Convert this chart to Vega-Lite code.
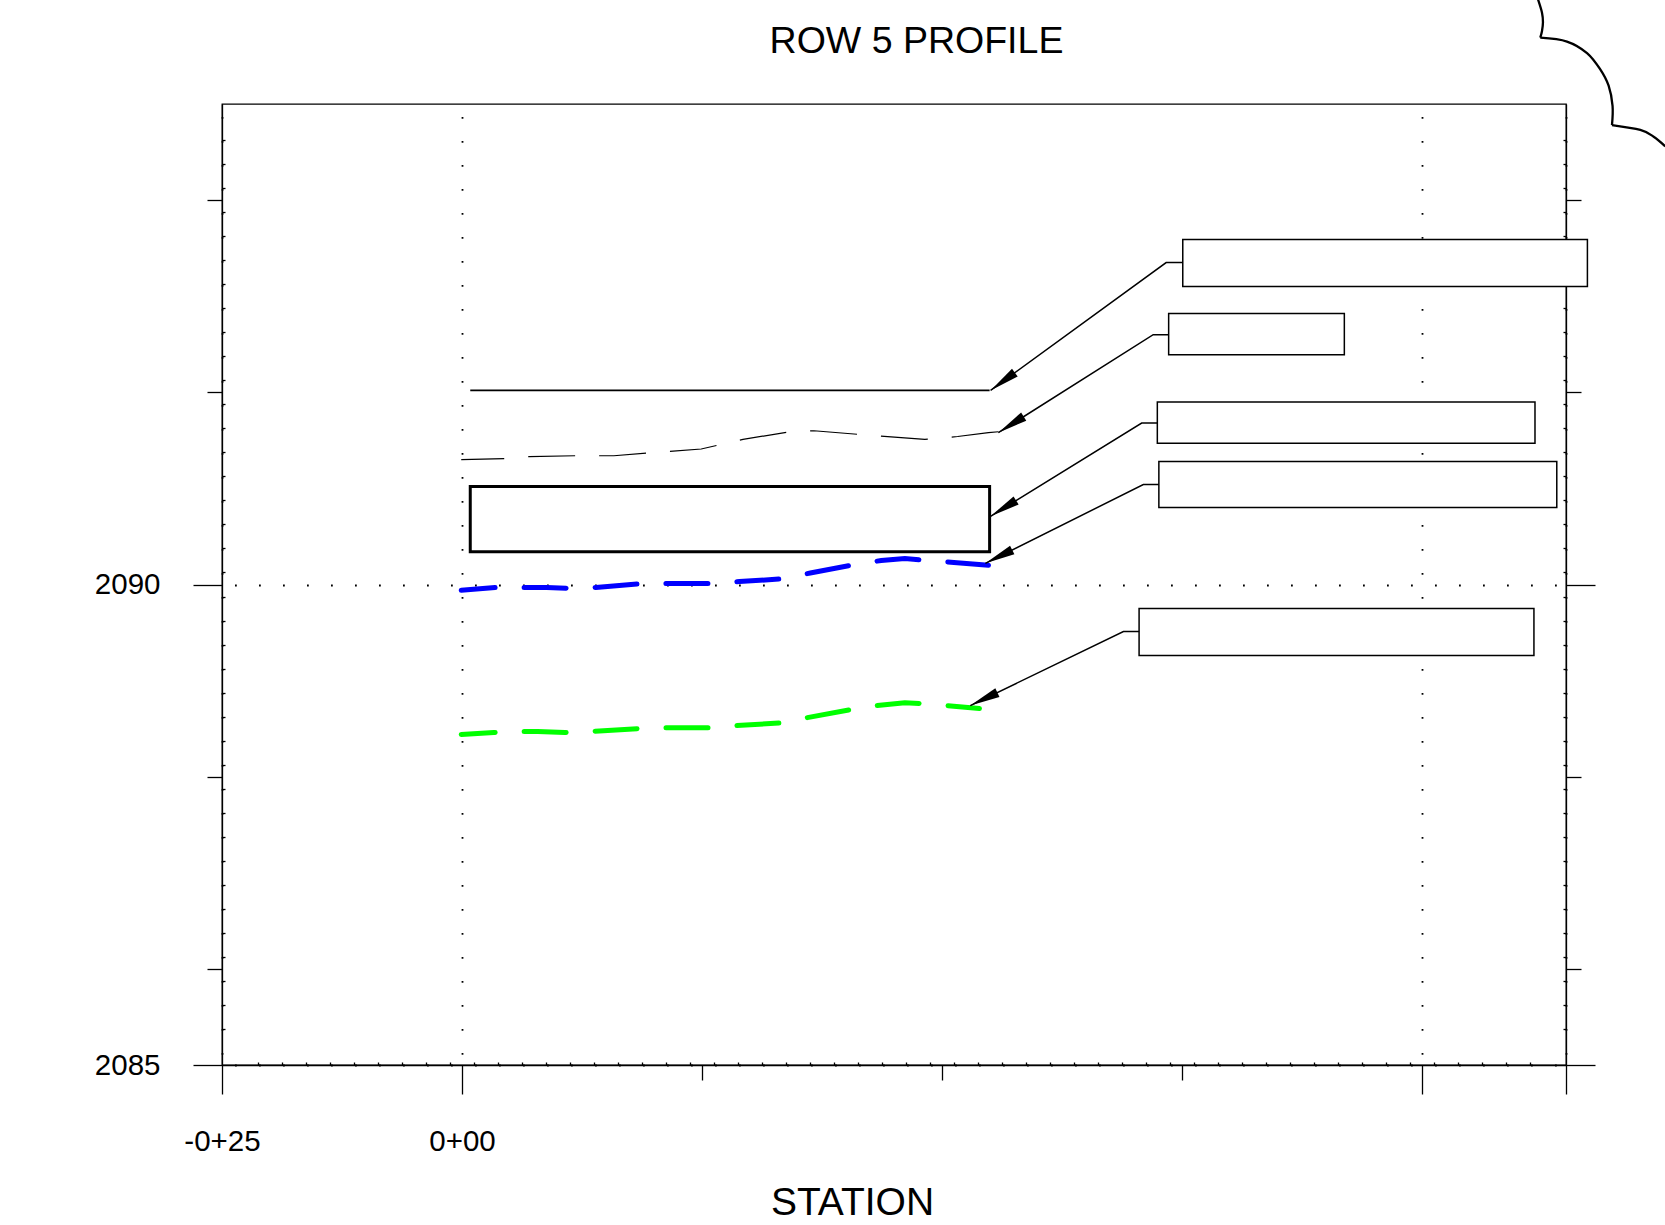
{
  "$schema": "https://vega.github.io/schema/vega-lite/v6.json",
  "width": 1344,
  "height": 961,
  "autosize": {"type": "none"},
  "padding": {"left": 222, "top": 104, "right": 99, "bottom": 160},
  "background": "white",
  "config": {
    "view": {"stroke": "black", "strokeWidth": 1.3},
    "axis": {
      "domain": false,
      "domainColor": "black",
      "domainWidth": 1.3,
      "tickColor": "black",
      "tickWidth": 1.3,
      "labels": false,
      "labelFont": "Liberation Sans",
      "labelFontSize": 29.5,
      "labelColor": "black",
      "labelOverlap": false,
      "labelFlush": false,
      "titleFont": "Liberation Sans",
      "titleColor": "black",
      "titleFontWeight": "normal",
      "grid": false,
      "gridColor": "black",
      "gridOpacity": 1,
      "gridWidth": 1.8,
      "gridDash": [1.8, 22.2],
      "gridDashOffset": 11.5
    }
  },
  "datasets": {
    "structure": [{"x1": 0.86, "x2": 54.96, "y1": 2090.34, "y2": 2091.02}],
    "boxes": [
      {"id": 1, "x1": 75.08, "x2": 117.23, "y1": 2093.10, "y2": 2093.59},
      {"id": 2, "x1": 73.61, "x2": 91.91, "y1": 2092.39, "y2": 2092.82},
      {"id": 3, "x1": 72.43, "x2": 111.77, "y1": 2091.47, "y2": 2091.90},
      {"id": 4, "x1": 72.59, "x2": 114.04, "y1": 2090.80, "y2": 2091.28},
      {"id": 5, "x1": 70.53, "x2": 111.66, "y1": 2089.26, "y2": 2089.75}
    ],
    "design": [
      {"station": 0.86, "elev": 2092.02},
      {"station": 54.96, "elev": 2092.02}
    ],
    "existing": [
      {"station": -0.08, "elev": 2091.30},
      {"station": 4.46, "elev": 2091.31},
      {"station": 6.99, "elev": 2091.33},
      {"station": 11.85, "elev": 2091.34},
      {"station": 15.82, "elev": 2091.34},
      {"station": 19.43, "elev": 2091.37},
      {"station": 24.92, "elev": 2091.41},
      {"station": 29.27, "elev": 2091.51},
      {"station": 34.20, "elev": 2091.59},
      {"station": 36.66, "elev": 2091.60},
      {"station": 41.58, "elev": 2091.56},
      {"station": 48.21, "elev": 2091.51},
      {"station": 51.63, "elev": 2091.54},
      {"station": 54.84, "elev": 2091.58},
      {"station": 55.91, "elev": 2091.59}
    ],
    "blue": [
      {"station": -0.08, "elev": 2089.94},
      {"station": 3.71, "elev": 2089.97},
      {"station": 8.82, "elev": 2089.97},
      {"station": 11.28, "elev": 2089.96},
      {"station": 13.94, "elev": 2089.97},
      {"station": 18.85, "elev": 2090.01},
      {"station": 26.24, "elev": 2090.01},
      {"station": 28.90, "elev": 2090.03},
      {"station": 33.63, "elev": 2090.06},
      {"station": 36.28, "elev": 2090.12},
      {"station": 41.02, "elev": 2090.21},
      {"station": 43.67, "elev": 2090.25},
      {"station": 46.13, "elev": 2090.27},
      {"station": 48.41, "elev": 2090.25},
      {"station": 51.24, "elev": 2090.23},
      {"station": 54.84, "elev": 2090.20}
    ],
    "green": [
      {"station": -0.08, "elev": 2088.44},
      {"station": 3.32, "elev": 2088.46},
      {"station": 5.60, "elev": 2088.47},
      {"station": 7.88, "elev": 2088.47},
      {"station": 10.71, "elev": 2088.46},
      {"station": 13.18, "elev": 2088.47},
      {"station": 18.29, "elev": 2088.50},
      {"station": 20.75, "elev": 2088.51},
      {"station": 25.68, "elev": 2088.51},
      {"station": 28.32, "elev": 2088.53},
      {"station": 33.25, "elev": 2088.56},
      {"station": 35.71, "elev": 2088.61},
      {"station": 40.64, "elev": 2088.70},
      {"station": 43.10, "elev": 2088.74},
      {"station": 46.13, "elev": 2088.77},
      {"station": 48.02, "elev": 2088.76},
      {"station": 50.49, "elev": 2088.74},
      {"station": 53.90, "elev": 2088.71}
    ],
    "leaders": [
      {"id": 1, "k": 1, "station": 75.08, "elev": 2093.35},
      {"id": 1, "k": 2, "station": 73.35, "elev": 2093.35},
      {"id": 1, "k": 3, "station": 55.06, "elev": 2092.02},
      {"id": 2, "k": 1, "station": 73.61, "elev": 2092.60},
      {"id": 2, "k": 2, "station": 72.00, "elev": 2092.60},
      {"id": 2, "k": 3, "station": 55.87, "elev": 2091.58},
      {"id": 3, "k": 1, "station": 72.43, "elev": 2091.68},
      {"id": 3, "k": 2, "station": 70.80, "elev": 2091.68},
      {"id": 3, "k": 3, "station": 55.06, "elev": 2090.71},
      {"id": 4, "k": 1, "station": 72.59, "elev": 2091.04},
      {"id": 4, "k": 2, "station": 70.97, "elev": 2091.04},
      {"id": 4, "k": 3, "station": 54.52, "elev": 2090.22},
      {"id": 5, "k": 1, "station": 70.53, "elev": 2089.51},
      {"id": 5, "k": 2, "station": 68.90, "elev": 2089.51},
      {"id": 5, "k": 3, "station": 52.95, "elev": 2088.74}
    ],
    "arrows": [
      {"id": 1, "station": 55.06, "elev": 2092.02},
      {"id": 2, "station": 55.87, "elev": 2091.58},
      {"id": 3, "station": 55.06, "elev": 2090.71},
      {"id": 4, "station": 54.52, "elev": 2090.22},
      {"id": 5, "station": 52.95, "elev": 2088.74}
    ],
    "cloud": [
      {"arc": "A", "k": 1, "station": 112.08, "elev": 2096.09},
      {"arc": "A", "k": 2, "station": 112.50, "elev": 2095.95},
      {"arc": "A", "k": 3, "station": 112.60, "elev": 2095.85},
      {"arc": "A", "k": 4, "station": 112.50, "elev": 2095.76},
      {"arc": "A", "k": 5, "station": 112.32, "elev": 2095.69},
      {"arc": "B", "k": 1, "station": 112.32, "elev": 2095.69},
      {"arc": "B", "k": 2, "station": 115.10, "elev": 2095.65},
      {"arc": "B", "k": 3, "station": 117.19, "elev": 2095.53},
      {"arc": "B", "k": 4, "station": 118.57, "elev": 2095.36},
      {"arc": "B", "k": 5, "station": 119.44, "elev": 2095.19},
      {"arc": "B", "k": 6, "station": 119.85, "elev": 2094.98},
      {"arc": "B", "k": 7, "station": 119.79, "elev": 2094.78},
      {"arc": "C", "k": 1, "station": 119.79, "elev": 2094.78},
      {"arc": "C", "k": 2, "station": 122.74, "elev": 2094.73},
      {"arc": "C", "k": 3, "station": 124.13, "elev": 2094.66},
      {"arc": "C", "k": 4, "station": 125.34, "elev": 2094.56}
    ]
  },
  "resolve": {"axis": {"x": "independent", "y": "independent"}},
  "layer": [
    {
      "data": {"name": "structure"},
      "mark": {"type": "rect", "fill": "transparent", "stroke": "black", "strokeWidth": 3, "clip": false},
      "encoding": {
        "x": {"field": "x1", "type": "quantitative", "scale": {"domain": [-25, 115], "nice": false, "zero": false},
          "axis": {"orient": "bottom", "values": [-25, 0, 100, 115], "tickSize": 29, "domain": true, "labels": true,
            "labelExpr": "datum.value == -25 ? '-0+25' : (datum.value == 0 ? '0+00' : '')",
            "labelPadding": 33, "grid": true,
            "title": "STATION", "titleFontSize": 39, "titleX": 630, "titleY": 149, "titleAlign": "center", "titleBaseline": "alphabetic"}},
        "x2": {"field": "x2"},
        "y": {"field": "y1", "type": "quantitative", "scale": {"domain": [2085, 2095], "nice": false, "zero": false},
          "axis": {"orient": "left", "values": [2085, 2090], "tickSize": 29, "domain": true, "labels": true, "format": "d",
            "labelPadding": 33, "grid": true, "title": null}},
        "y2": {"field": "y2"}
      }
    },
    {
      "data": {"name": "boxes"},
      "mark": {"type": "rect", "fill": "white", "stroke": "black", "strokeWidth": 1.5, "clip": false},
      "encoding": {
        "x": {"field": "x1", "type": "quantitative", "scale": {"domain": [-25, 115], "nice": false, "zero": false},
          "axis": {"orient": "bottom", "values": [25, 50, 75], "tickSize": 15, "title": null}},
        "x2": {"field": "x2"},
        "y": {"field": "y1", "type": "quantitative", "scale": {"domain": [2085, 2095], "nice": false, "zero": false},
          "axis": {"orient": "left", "values": [2086, 2088, 2092, 2094], "tickSize": 15, "title": null}},
        "y2": {"field": "y2"}
      }
    },
    {
      "data": {"name": "design"},
      "mark": {"type": "line", "color": "black", "strokeWidth": 1.6, "clip": false},
      "encoding": {
        "x": {"field": "station", "type": "quantitative", "scale": {"domain": [-25, 115], "nice": false, "zero": false},
          "axis": {"orient": "bottom", "tickSize": -3, "title": null,
            "values": [-21.25, -18.75, -16.25, -13.75, -11.25, -8.75, -6.25, -3.75, -1.25, 1.25, 3.75, 6.25, 8.75, 11.25, 13.75, 16.25, 18.75, 21.25, 23.75, 26.25, 28.75, 31.25, 33.75, 36.25, 38.75, 41.25, 43.75, 46.25, 48.75, 51.25, 53.75, 56.25, 58.75, 61.25, 63.75, 66.25, 68.75, 71.25, 73.75, 76.25, 78.75, 81.25, 83.75, 86.25, 88.75, 91.25, 93.75, 96.25, 98.75, 101.25, 103.75, 106.25, 108.75, 111.25]}},
        "y": {"field": "elev", "type": "quantitative", "scale": {"domain": [2085, 2095], "nice": false, "zero": false},
          "axis": {"orient": "left", "tickSize": -3, "title": null,
            "values": [2085.375, 2085.625, 2085.875, 2086.125, 2086.375, 2086.625, 2086.875, 2087.125, 2087.375, 2087.625, 2087.875, 2088.125, 2088.375, 2088.625, 2088.875, 2089.125, 2089.375, 2089.625, 2089.875, 2090.125, 2090.375, 2090.625, 2090.875, 2091.125, 2091.375, 2091.625, 2091.875, 2092.125, 2092.375, 2092.625, 2092.875, 2093.125, 2093.375, 2093.625, 2093.875, 2094.125, 2094.375, 2094.625]}}
      }
    },
    {
      "data": {"name": "existing"},
      "mark": {"type": "line", "color": "black", "strokeWidth": 1.2, "strokeDash": [47, 24], "strokeDashOffset": 4, "clip": false},
      "encoding": {
        "x": {"field": "station", "type": "quantitative", "scale": {"domain": [-25, 115], "nice": false, "zero": false},
          "axis": {"orient": "top", "ticks": false, "labels": false, "domain": false,
            "title": "ROW 5 PROFILE", "titleFontSize": 37.5, "titleX": 694, "titleY": -52, "titleAlign": "center", "titleBaseline": "alphabetic"}},
        "y": {"field": "elev", "type": "quantitative", "scale": {"domain": [2085, 2095], "nice": false, "zero": false},
          "axis": {"orient": "right", "values": [2085, 2090], "tickSize": 29, "domain": true, "title": null}}
      }
    },
    {
      "data": {"name": "blue"},
      "mark": {"type": "line", "color": "#0000ff", "strokeWidth": 5, "strokeCap": "round", "strokeDash": [42, 29], "strokeDashOffset": 8, "clip": false},
      "encoding": {
        "x": {"field": "station", "type": "quantitative", "scale": {"domain": [-25, 115], "nice": false, "zero": false}, "axis": null},
        "y": {"field": "elev", "type": "quantitative", "scale": {"domain": [2085, 2095], "nice": false, "zero": false},
          "axis": {"orient": "right", "values": [2086, 2088, 2092, 2094], "tickSize": 15, "title": null}}
      }
    },
    {
      "data": {"name": "green"},
      "mark": {"type": "line", "color": "#00ff00", "strokeWidth": 5, "strokeCap": "round", "strokeDash": [42, 29], "strokeDashOffset": 8, "clip": false},
      "encoding": {
        "x": {"field": "station", "type": "quantitative", "scale": {"domain": [-25, 115], "nice": false, "zero": false}, "axis": null},
        "y": {"field": "elev", "type": "quantitative", "scale": {"domain": [2085, 2095], "nice": false, "zero": false},
          "axis": {"orient": "right", "tickSize": -3, "title": null,
            "values": [2085.375, 2085.625, 2085.875, 2086.125, 2086.375, 2086.625, 2086.875, 2087.125, 2087.375, 2087.625, 2087.875, 2088.125, 2088.375, 2088.625, 2088.875, 2089.125, 2089.375, 2089.625, 2089.875, 2090.125, 2090.375, 2090.625, 2090.875, 2091.125, 2091.375, 2091.625, 2091.875, 2092.125, 2092.375, 2092.625, 2092.875, 2093.125, 2093.375, 2093.625, 2093.875, 2094.125, 2094.375, 2094.625]}}
      }
    },
    {
      "data": {"name": "leaders"},
      "mark": {"type": "line", "color": "black", "strokeWidth": 1.5, "clip": false},
      "encoding": {
        "x": {"field": "station", "type": "quantitative", "scale": {"domain": [-25, 115], "nice": false, "zero": false}, "axis": null},
        "y": {"field": "elev", "type": "quantitative", "scale": {"domain": [2085, 2095], "nice": false, "zero": false}, "axis": null},
        "detail": {"field": "id", "type": "nominal"},
        "order": {"field": "k", "type": "quantitative"}
      }
    },
    {
      "data": {"name": "arrows"},
      "mark": {"type": "point", "shape": "M0,0L0.32,2L-0.32,2Z", "filled": true, "color": "black", "opacity": 1, "size": 900, "clip": false},
      "encoding": {
        "x": {"field": "station", "type": "quantitative", "scale": {"domain": [-25, 115], "nice": false, "zero": false}, "axis": null},
        "y": {"field": "elev", "type": "quantitative", "scale": {"domain": [2085, 2095], "nice": false, "zero": false}, "axis": null},
        "angle": {"field": "id", "type": "quantitative", "scale": {"domain": [1, 2, 3, 4, 5], "range": [233.96, 237.66, 238.2, 243.4, 244.5], "nice": false, "zero": false}, "legend": null}
      }
    },
    {
      "data": {"name": "cloud"},
      "mark": {"type": "line", "color": "black", "strokeWidth": 2.3, "interpolate": "cardinal", "clip": false},
      "encoding": {
        "x": {"field": "station", "type": "quantitative", "scale": {"domain": [-25, 115], "nice": false, "zero": false}, "axis": null},
        "y": {"field": "elev", "type": "quantitative", "scale": {"domain": [2085, 2095], "nice": false, "zero": false}, "axis": null},
        "detail": {"field": "arc", "type": "nominal"},
        "order": {"field": "k", "type": "quantitative"}
      }
    }
  ]
}
